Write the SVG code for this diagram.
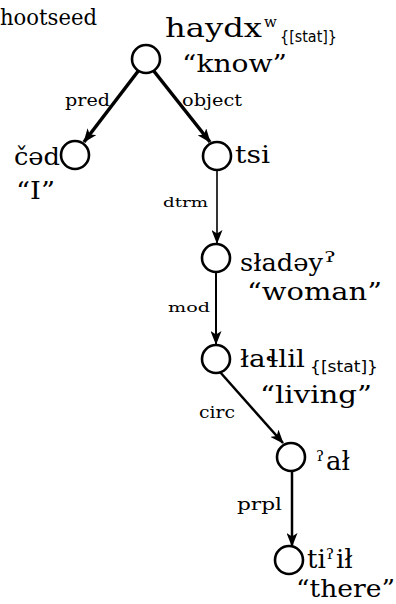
<svg xmlns="http://www.w3.org/2000/svg" width="396" height="604" viewBox="0 0 396 604">
<defs>
<marker id="ah" viewBox="0 0 14 11" refX="13" refY="5.5" markerWidth="14" markerHeight="11" markerUnits="userSpaceOnUse" orient="auto">
<path d="M0,0 L14,5.5 L0,11 L3.5,5.5 Z" fill="#000"/>
</marker>
</defs>
<style>
text{font-family:"DejaVu Serif","Liberation Serif",serif;fill:#000}
.w{font-size:25px}
.g{font-size:24px}
.b{font-size:26px}
.s{font-size:15px;font-family:"DejaVu Sans","Liberation Sans",sans-serif}
.l{font-size:16px}
.ls{font-size:13px}
.sup{font-size:15px}
circle{fill:#fff;stroke:#000;stroke-width:2.6}
.e{stroke:#000;fill:none}
</style>
<rect width="396" height="604" fill="#fff"/>
<text x="0" y="25" style="font-size:22px" textLength="97" lengthAdjust="spacingAndGlyphs">hootseed</text>
<g id="connectors">
<line class="e" x1="139" y1="70" x2="84" y2="142" stroke-width="3.5" marker-end="url(#ah)"/>
<line class="e" x1="153" y1="70" x2="210" y2="142" stroke-width="3.5" marker-end="url(#ah)"/>
<line class="e" x1="217" y1="170" x2="217" y2="243" stroke-width="1.6" marker-end="url(#ah)"/>
<line class="e" x1="216" y1="272" x2="216" y2="344" stroke-width="2" marker-end="url(#ah)"/>
<line class="e" x1="220" y1="372" x2="283" y2="443" stroke-width="2.5" marker-end="url(#ah)"/>
<line class="e" x1="292" y1="471" x2="292" y2="546" stroke-width="2.5" marker-end="url(#ah)"/>
<text class="l" x="65" y="106" textLength="45" lengthAdjust="spacingAndGlyphs">pred</text>
<text class="l" x="182" y="106" textLength="60" lengthAdjust="spacingAndGlyphs">object</text>
<text class="ls" x="163" y="207" textLength="45" lengthAdjust="spacingAndGlyphs">dtrm</text>
<text class="ls" x="168" y="312" textLength="42" lengthAdjust="spacingAndGlyphs">mod</text>
<text class="l" x="199" y="418" textLength="36" lengthAdjust="spacingAndGlyphs">circ</text>
<text class="l" x="237" y="510" textLength="45" lengthAdjust="spacingAndGlyphs">prpl</text>
</g>
<g id="n-know">
<circle cx="146" cy="59" r="14"/>
<text x="165" y="37" style="font-size:26px" textLength="97" lengthAdjust="spacingAndGlyphs">haydx</text>
<text class="sup" x="264" y="27">w</text>
<text class="s" x="280" y="42" textLength="57" lengthAdjust="spacingAndGlyphs">{[stat]}</text>
<text class="w" x="182" y="72" textLength="105" lengthAdjust="spacingAndGlyphs">“know”</text>
</g>
<g id="n-I">
<circle cx="75" cy="155" r="14"/>
<text class="g" x="14" y="165" textLength="46" lengthAdjust="spacingAndGlyphs">čəd</text>
<text class="w" x="16" y="199" textLength="39" lengthAdjust="spacingAndGlyphs">“I”</text>
</g>
<g id="n-tsi">
<circle cx="217" cy="156" r="14"/>
<text class="g" x="235" y="163" textLength="35" lengthAdjust="spacingAndGlyphs">tsi</text>
</g>
<g id="n-woman">
<circle cx="216" cy="258" r="14"/>
<text class="g" x="240" y="271" textLength="83" lengthAdjust="spacingAndGlyphs">sładəy</text>
<text class="sup" x="324" y="262" textLength="12" lengthAdjust="spacingAndGlyphs">ʔ</text>
<text class="w" x="247" y="300" textLength="135" lengthAdjust="spacingAndGlyphs">“woman”</text>
</g>
<g id="n-living">
<circle cx="216" cy="359" r="14"/>
<text class="g" x="240" y="367" textLength="65" lengthAdjust="spacingAndGlyphs">łaɬlil</text>
<text class="s" x="310" y="372" textLength="68" lengthAdjust="spacingAndGlyphs">{[stat]}</text>
<text class="w" x="260" y="403" textLength="112" lengthAdjust="spacingAndGlyphs">“living”</text>
</g>
<g id="n-al">
<circle cx="291" cy="457" r="14"/>
<text class="sup" x="316" y="461">ʔ</text>
<text class="b" x="326" y="470">ał</text>
</g>
<g id="n-there">
<circle cx="289" cy="560" r="14"/>
<text class="b" x="307" y="568">ti</text>
<text class="sup" x="326" y="559">ʔ</text>
<text class="b" x="336" y="568">ił</text>
<text class="w" x="296" y="597" textLength="99" lengthAdjust="spacingAndGlyphs">“there”</text>
</g>
</svg>
